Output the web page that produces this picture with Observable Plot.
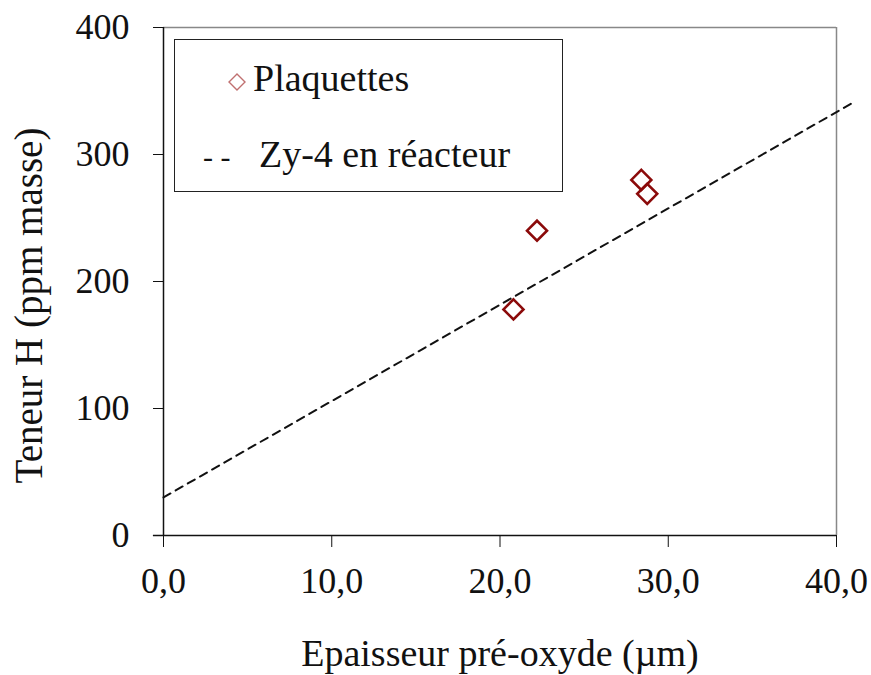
<!DOCTYPE html>
<html>
<head>
<meta charset="utf-8">
<script src="https://cdn.jsdelivr.net/npm/d3@7"></script>
<script src="https://cdn.jsdelivr.net/npm/@observablehq/plot@0.6"></script>
<style>
  body { margin: 0; background: #fff; }
  #wrap { position: relative; width: 871px; height: 675px; font-family: "Liberation Serif", "DejaVu Serif", serif; }
  #legend { position: absolute; left: 174px; top: 39px; width: 389px; height: 153px; border: 1.3px solid #222; background: #fff; box-sizing: border-box; font-size: 38px; color: #111; }
  .row { position: absolute; left: 0; white-space: nowrap; line-height: 44px; }
</style>
</head>
<body>
<div id="wrap">
  <div id="chart"></div>
  <div id="legend">
    <div class="row" style="top:16px;left:52px;"><svg width="20" height="20" style="vertical-align:-1px;margin-right:6px"><path d="M10,2 L18,10 L10,18 L2,10 Z" fill="none" stroke="#c07070" stroke-width="1.4"/></svg>Plaquettes</div>
    <div class="row" style="top:92px;left:28px;"><span style="display:inline-block;width:56px;font-size:30px;">- -</span>Zy-4 en réacteur</div>
  </div>
</div>
<script>
const plaqEpaisseur = [20.8, 22.2, 28.4, 28.75];
const plaqTeneur = [178, 240, 280, 269];
const lineEpaisseur = [0, 41];
const lineTeneur = [30, 341];
const xTicks = [0, 10, 20, 30, 40];
const yTicks = [0, 100, 200, 300, 400];

const points = plaqEpaisseur.map((x, i) => ({x, y: plaqTeneur[i]}));
const line = lineEpaisseur.map((x, i) => ({x, y: lineTeneur[i]}));

const chart = Plot.plot({
  width: 871,
  height: 675,
  marginLeft: 163,
  marginRight: 35,
  marginTop: 27,
  marginBottom: 140,
  style: { fontFamily: '"Liberation Serif", "DejaVu Serif", serif', fontSize: "36px", color: "#111", background: "#fff", overflow: "visible" },
  x: { domain: [0, 40] },
  y: { domain: [0, 400] },
  marks: [
    Plot.ruleY([400], { stroke: "#888", strokeWidth: 1.5 }),
    Plot.ruleX([40], { stroke: "#888", strokeWidth: 1.5 }),
    Plot.line(line, { x: "x", y: "y", stroke: "#111", strokeWidth: 2, strokeDasharray: "8,6", clip: false }),
    Plot.dot(points, { x: "x", y: "y", symbol: "diamond2", r: 9, stroke: "#8b0a0a", strokeWidth: 2.6, fill: "none" }),
    Plot.axisX({ ticks: xTicks, tickFormat: d => d.toFixed(1).replace(".", ","), tickSize: 12, tickPadding: 20, stroke: "#111", label: null, fontSize: 36 }),
    Plot.axisY({ ticks: yTicks, tickFormat: d => String(d), tickSize: 10, tickPadding: 24, stroke: "#111", label: null, fontSize: 36 }),
    Plot.ruleX([0], { stroke: "#111", strokeWidth: 1.5 }),
    Plot.ruleY([0], { stroke: "#111", strokeWidth: 1.5, x1: -0.6, x2: 40 }),
    Plot.text(["Epaisseur pré-oxyde (µm)"], { frameAnchor: "bottom", dy: 130, fontSize: 38, fill: "#111", textAnchor: "middle" }),
    Plot.text(["Teneur H (ppm masse)"], { frameAnchor: "left", dx: -134, dy: 24, rotate: -90, fontSize: 39, fill: "#111", textAnchor: "middle" })
  ]
});
document.getElementById("chart").appendChild(chart);
</script>
</body>
</html>
